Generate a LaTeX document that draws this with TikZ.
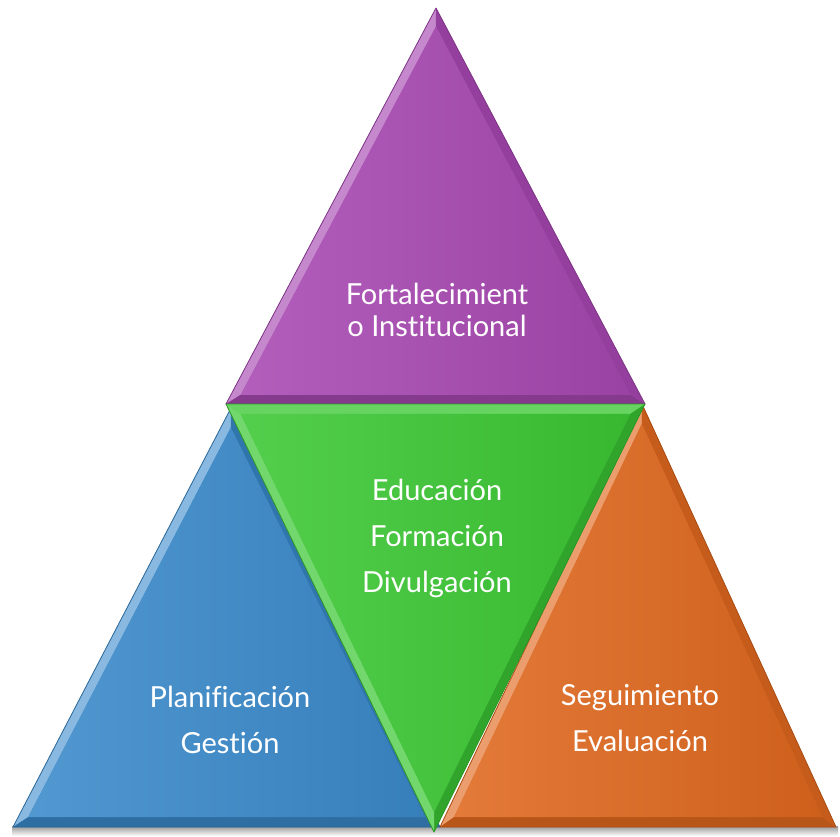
\documentclass[tikz,border=0pt]{standalone}
\usepackage{fontspec}
\setmainfont{Lato}[Ligatures=NoCommon]
\usetikzlibrary{calc}
\definecolor{purp}{HTML}{A848B2}
\definecolor{grn}{HTML}{3CC834}
\definecolor{blu}{HTML}{3A8ACB}
\definecolor{orn}{HTML}{E0681E}
\newcommand\bevtri[5]{%
  \coordinate (#1G) at (barycentric cs:#1A=1,#1B=1,#1C=1);
  \coordinate (#1a) at ($(#1A)!0.07!(#1G)$);
  \coordinate (#1b) at ($(#1B)!0.07!(#1G)$);
  \coordinate (#1c) at ($(#1C)!0.07!(#1G)$);
  \fill[#2] (#1A)--(#1B)--(#1C)--cycle;
  \fill[#3] (#1A)--(#1B)--(#1b)--(#1a)--cycle;
  \fill[#4] (#1B)--(#1C)--(#1c)--(#1b)--cycle;
  \fill[#5] (#1C)--(#1A)--(#1a)--(#1c)--cycle;
  \shade[left color=#2!88!white, right color=#2!92!black] (#1a)--(#1b)--(#1c)--cycle;
  \draw[#2!75!black, line width=0.8pt, line join=round] (#1A)--(#1B)--(#1C)--cycle;
}
\tikzset{lbl/.style={text=white, align=center, font=\fontsize{29}{32}\selectfont}}
\begin{document}
\begin{tikzpicture}[x=1pt,y=-1pt]
\useasboundingbox[fill=white] (0,0) rectangle (840,836);
% shadow
\shade[top color=black!40, bottom color=white] (12,826) rectangle (838,836);
% purple top
\coordinate (pA) at (436,8); \coordinate (pB) at (226,404); \coordinate (pC) at (645,404);
\bevtri{p}{purp}{purp!65!white}{purp!80!black}{purp!88!black}
% blue left
\coordinate (bA) at (231,408); \coordinate (bB) at (13,827); \coordinate (bC) at (440,827);
\bevtri{b}{blu}{blu!60!white}{blu!80!black}{blu!85!black}
% orange right
\coordinate (oA) at (642,404); \coordinate (oB) at (440,827); \coordinate (oC) at (836,827);
\bevtri{o}{orn}{orn!65!white}{orn!82!black}{orn!88!black}
% green center
\coordinate (gA) at (226,404); \coordinate (gB) at (645,404); \coordinate (gC) at (434,832);
\bevtri{g}{grn}{grn!78!white}{grn!82!black}{grn!72!white}
% labels
\node[lbl] (t1) at (437,310) {Fortalecimient\\o Institucional};
\node[lbl, font=\fontsize{29}{46}\selectfont] (t2) at (437,538) {Educación\\Formación\\Divulgación};
\node[lbl, font=\fontsize{29}{46}\selectfont] (t3) at (230,720) {Planificación\\Gestión};
\node[lbl, font=\fontsize{29}{46}\selectfont] (t4) at (640,718) {Seguimiento\\Evaluación};
\end{tikzpicture}
\end{document}
